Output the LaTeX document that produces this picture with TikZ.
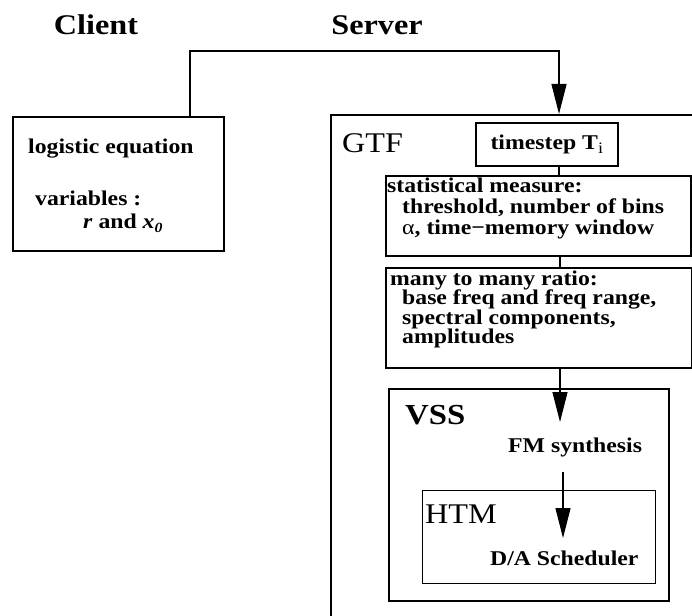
\documentclass[tikz,border=0pt]{standalone}
\usepackage{fontspec}
\setmainfont{Liberation Serif}[FakeStretch=1.13]
\usetikzlibrary{arrows.meta}

\begin{document}
\begin{tikzpicture}[x=1pt,y=-1pt,
  frame/.style={draw, line width=1.6pt, inner sep=0pt, anchor=north west},
  heading/.style={font=\fontsize{28.5}{28.5}\selectfont, inner sep=0pt},
  body/.style={font=\fontsize{21}{20}\selectfont\bfseries, inner sep=0pt, anchor=base west},
  link/.style={line width=1.2pt},
  flow/.style={link, -{Triangle[length=30pt,width=15pt]}}]

\useasboundingbox (0,0) rectangle (692,615);
\clip (0,0) rectangle (692,615);

% titles
\node[heading, anchor=base, font=\fontsize{28.5}{28.5}\selectfont\bfseries] (clientlbl) at (96,35) {Client};
\node[heading, anchor=base, font=\fontsize{28.5}{28.5}\selectfont\bfseries] (serverlbl) at (377,35) {Server};

% client side
\node[frame, minimum width=211pt, minimum height=134pt] (client) at (12,116) {};
\node[body] (logeq) at (28,153) {logistic equation};
\node[body] (vars) at (35,205) {variables :};
\node[body] (rx) at (83,228) {\itshape r\/ \upshape and \itshape x\raisebox{-4pt}{\fontsize{14}{14}\selectfont 0}};

% server side: GTF
\node[frame, minimum width=420pt, minimum height=560pt] (gtf) at (330,114) {};
\node[heading, anchor=base west] (gtflbl) at (342,152) {GTF};

\node[frame, minimum width=142pt, minimum height=43pt, font=\fontsize{21}{20}\selectfont\bfseries]
  (timestep) at (475,122) {timestep T\raisebox{-4pt}{\fontsize{16}{16}\selectfont\mdseries i}};

\node[frame, minimum width=305pt, minimum height=80pt] (stat) at (385,175) {};
\node[body] (stat1) at (387,192) {statistical measure:};
\node[body] (stat2) at (402,213) {threshold, number of bins};
\node[body] (stat3) at (402,234) {{\mdseries α}, time−memory window};

\node[frame, minimum width=306pt, minimum height=100pt] (many) at (385,267) {};
\node[body] (many1) at (390,285) {many to many ratio:};
\node[body] (many2) at (402,304.5) {base freq and freq range,};
\node[body] (many3) at (402,324) {spectral components,};
\node[body] (many4) at (402,343.5) {amplitudes};

% VSS
\node[frame, minimum width=280pt, minimum height=212pt] (vss) at (388,388) {};
\node[heading, anchor=base west, font=\fontsize{29}{29}\selectfont\bfseries] (vsslbl) at (405,424) {VSS};
\node[body] (fm) at (508,452) {FM synthesis};

% HTM
\node[frame, line width=1.4pt, minimum width=233pt, minimum height=93pt] (htm) at (422,490) {};
\node[heading, anchor=base west] (htmlbl) at (425,523) {HTM};
\node[body] (da) at (490,565) {D/A Scheduler};

% connector end points
\coordinate (cout) at (190,116);
\coordinate (bend) at (559,51);
\coordinate (gtfin) at (559,114);
\coordinate (vssin) at (560,422);
\coordinate (fmout) at (563,472);
\coordinate (htmin) at (563,538);

% connectors
\draw[flow] (cout) |- (bend) -- (gtfin);
\draw[link] (timestep.south -| gtfin) -- (stat.north -| gtfin);
\draw[link] (stat.south -| vssin) -- (many.north -| vssin);
\draw[flow] (many.south -| vssin) -- (vssin);
\draw[flow] (fmout) -- (htmin);
\end{tikzpicture}
\end{document}
